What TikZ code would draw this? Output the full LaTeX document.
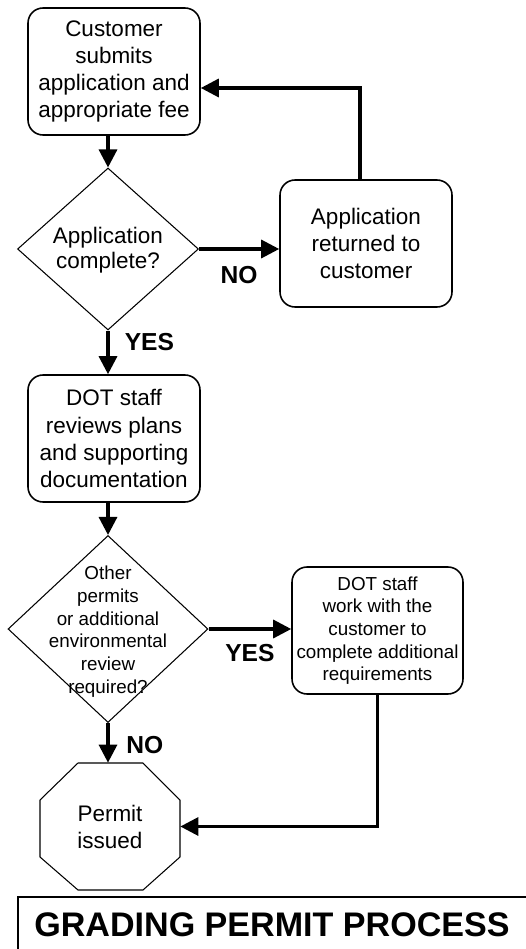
\documentclass[tikz,border=0pt]{standalone}
\usepackage{fontspec}
\setmainfont{Liberation Sans}
\usetikzlibrary{arrows.meta,shapes.geometric}

\begin{document}
\begin{tikzpicture}[x=0.02cm,y=-0.02cm,
    txt/.style={align=center,inner sep=2pt,font=\fontsize{12.8}{15.4}\selectfont},
    small/.style={font=\fontsize{10.7}{12.9}\selectfont},
    box/.style={txt,draw,rounded corners=0.3cm,line width=0.9pt,minimum width=3.44cm,minimum height=2.54cm},
    dia/.style={draw,diamond,line width=0.6pt,inner sep=0pt},
    arr/.style={line width=1.8pt,-{Triangle[length=0.36cm,width=0.36cm]}},
    lbl/.style={inner sep=1pt,font=\fontsize{14}{16}\selectfont\bfseries}]
    \useasboundingbox (0,0) rectangle (526,949);
    \node[box] (Sub) at (114,71.5) {Customer\\submits\\application and\\appropriate fee};
    \node[dia,minimum width=3.62cm,minimum height=3.24cm] (Chk) at (108,249) {};
    \node[txt,font=\fontsize{12.8}{14.3}\selectfont] (ChkTxt) at (108,250) {Application\\complete?};
    \node[box] (Ret) at (366,243.5) {Application\\returned to\\customer};
    \node[box] (Rev) at (114,438.5) {DOT staff\\reviews plans\\and supporting\\documentation};
    \node[dia,minimum width=4cm,minimum height=3.74cm] (Env) at (108,629) {};
    \node[txt,small] (EnvTxt) at (108,631.5) {Other\\permits\\or additional\\environmental\\review\\required?};
    \node[box,small,minimum width=3.42cm] (Work) at (377.5,630.5) {DOT staff\\work with the\\customer to\\complete additional\\requirements};
    \node[txt,minimum width=2.8cm,minimum height=2.54cm] (Perm) at (110,826.5) {Permit\\issued};
    \draw[line width=0.6pt] (78,763) -- (143,763) -- (180,800) -- (180,857) -- (143,890) -- (78,890) -- (40,857) -- (40,800) -- cycle;
    \node[font=\fontsize{19.4}{22}\selectfont\bfseries] (Title) at (272,925) {GRADING PERMIT PROCESS};
    \draw[line width=1pt] (526,897) -- (18,897) -- (18,949);

    \draw[arr] (Sub.south -| Chk.north) -- (Chk.north);
    \draw[arr] (Chk.east) -- (Chk.east -| Ret.west) node[lbl,midway,below=0.28cm] {NO};
    \draw[arr] ([xshift=-0.12cm]Ret.north) |- ([yshift=-0.33cm]Sub.east);
    \draw[arr] (Chk.south) -- (Chk.south |- Rev.north) node[lbl,pos=0.27,right=0.27cm] {YES};
    \draw[arr] (Rev.south -| Env.north) -- (Env.north);
    \draw[arr] (Env.east) -- (Env.east -| Work.west) node[lbl,midway,below=0.24cm] {YES};
    \draw[arr] (Env.south) -- (Env.south |- Perm.north) node[lbl,pos=0.56,right=0.3cm] {NO};
    \draw[arr] (Work.south) |- (Perm.east);
\end{tikzpicture}
\end{document}
